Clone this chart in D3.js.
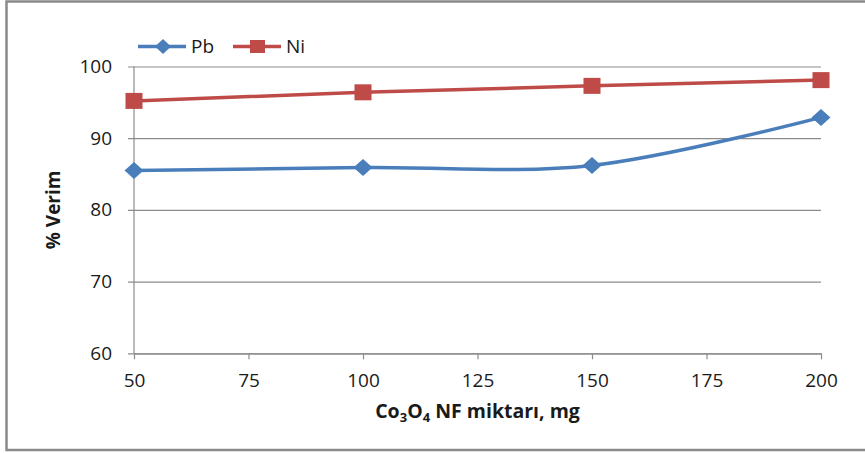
<!DOCTYPE html>
<html>
<head>
<meta charset="utf-8">
<script src="https://cdn.jsdelivr.net/npm/d3@7"></script>
<style>
  html, body { margin: 0; padding: 0; background: #fff; }
  svg { display: block; }
  text { font-family: "Open Sans", "Liberation Sans", sans-serif; fill: #1a1a1a; }
</style>
</head>
<body>
<svg id="chart" width="865" height="453"></svg>
<script>
// Co3O4 NF amount (mg) vs. removal efficiency (%)
const amounts = [50, 100, 150, 200];
const pbValues = [85.5, 85.9, 86.2, 92.9];
const niValues = [95.2, 96.4, 97.3, 98.1];
const xTicks = [50, 75, 100, 125, 150, 175, 200];
const yTicks = [60, 70, 80, 90, 100];
const seriesNames = ["Pb", "Ni"];

const svg = d3.select("#chart");
const W = 865, H = 453;

// outer chart frame
svg.append("rect")
  .attr("x", 6.5).attr("y", 1.5)
  .attr("width", W + 10).attr("height", 448.5)
  .attr("fill", "#fff")
  .attr("stroke", "#8a8a8a").attr("stroke-width", 2.5);

const plotL = 134, plotR = 821, plotT = 66.5, plotB = 353.3;
const x = d3.scaleLinear().domain([50, 200]).range([plotL, plotR]);
const y = d3.scaleLinear().domain([60, 100]).range([plotB, plotT]);

// horizontal gridlines + y labels
const yAxis = svg.append("g")
  .attr("transform", `translate(${plotR},0)`)
  .call(d3.axisLeft(y).tickValues(yTicks).tickSize(plotR - plotL + 6).tickSizeOuter(0).tickPadding(16));
yAxis.select(".domain").remove();
yAxis.selectAll("line").attr("stroke", "#8c8c8c").attr("stroke-width", 1.2);
yAxis.selectAll("text").attr("font-size", 19).style("fill", "#1a1a1a");

// vertical axis line
svg.append("line")
  .attr("x1", plotL).attr("x2", plotL)
  .attr("y1", plotT).attr("y2", plotB)
  .attr("stroke", "#8c8c8c").attr("stroke-width", 1.2);

// x axis
const xAxis = svg.append("g")
  .attr("transform", `translate(0,${plotB})`)
  .call(d3.axisBottom(x).tickValues(xTicks).tickSize(6).tickSizeOuter(0).tickPadding(14));
xAxis.select(".domain").attr("stroke", "#8c8c8c").attr("stroke-width", 1.2);
xAxis.selectAll("line").attr("stroke", "#8c8c8c").attr("stroke-width", 1.2);
xAxis.selectAll("text").attr("font-size", 19).style("fill", "#1a1a1a");

// axis titles
const xt = svg.append("text")
  .attr("x", (plotL + plotR) / 2).attr("y", 418)
  .attr("text-anchor", "middle")
  .attr("font-size", 19.5).attr("font-weight", "bold");
xt.append("tspan").text("Co");
xt.append("tspan").text("3").attr("font-size", 13).attr("dy", 4);
xt.append("tspan").text("O").attr("dy", -4);
xt.append("tspan").text("4").attr("font-size", 13).attr("dy", 4);
xt.append("tspan").text(" NF miktarı, mg").attr("dy", -4);

svg.append("text")
  .attr("transform", `translate(60,${(plotT + plotB) / 2}) rotate(-90)`)
  .attr("text-anchor", "middle")
  .attr("font-size", 19).attr("font-weight", "bold")
  .text("% Verim");

const colors = { Pb: "#4a7ebb", Ni: "#be4b48" };

// Ni series: straight segments, square markers
const niLine = d3.line().x((d, i) => x(amounts[i])).y(d => y(d));
svg.append("path").datum(niValues)
  .attr("d", niLine).attr("fill", "none")
  .attr("stroke", colors.Ni).attr("stroke-width", 3.5);
svg.selectAll(".ni-pt").data(niValues).enter().append("rect")
  .attr("x", (d, i) => x(amounts[i]) - 8.5).attr("y", d => y(d) - 8)
  .attr("width", 17).attr("height", 16)
  .attr("fill", colors.Ni);

// Pb series: smoothed line, diamond markers
const pbLine = d3.line().x((d, i) => x(amounts[i])).y(d => y(d)).curve(d3.curveCatmullRom.alpha(0));
svg.append("path").datum(pbValues)
  .attr("d", pbLine).attr("fill", "none")
  .attr("stroke", colors.Pb).attr("stroke-width", 3.5);
const diamond = (cx, cy, rx, ry) => `M${cx},${cy - ry}L${cx + rx},${cy}L${cx},${cy + ry}L${cx - rx},${cy}Z`;
svg.selectAll(".pb-pt").data(pbValues).enter().append("path")
  .attr("d", (d, i) => diamond(x(amounts[i]), y(d), 9.5, 8.5))
  .attr("fill", colors.Pb);

// legend
const legendX = [138, 233];
seriesNames.forEach((name, k) => {
  const g = svg.append("g").attr("transform", `translate(${legendX[k]},46.5)`);
  g.append("line").attr("x1", 0).attr("x2", 48).attr("y1", 0).attr("y2", 0)
    .attr("stroke", colors[name]).attr("stroke-width", 3.5);
  if (name === "Pb") {
    g.append("path").attr("d", diamond(25, 0, 8, 7.5)).attr("fill", colors[name]);
  } else {
    g.append("rect").attr("x", 17).attr("y", -6.5).attr("width", 15).attr("height", 13).attr("fill", colors[name]);
  }
  g.append("text").attr("x", 53).attr("y", 6.5).attr("font-size", 19).text(name);
});
</script>
</body>
</html>
